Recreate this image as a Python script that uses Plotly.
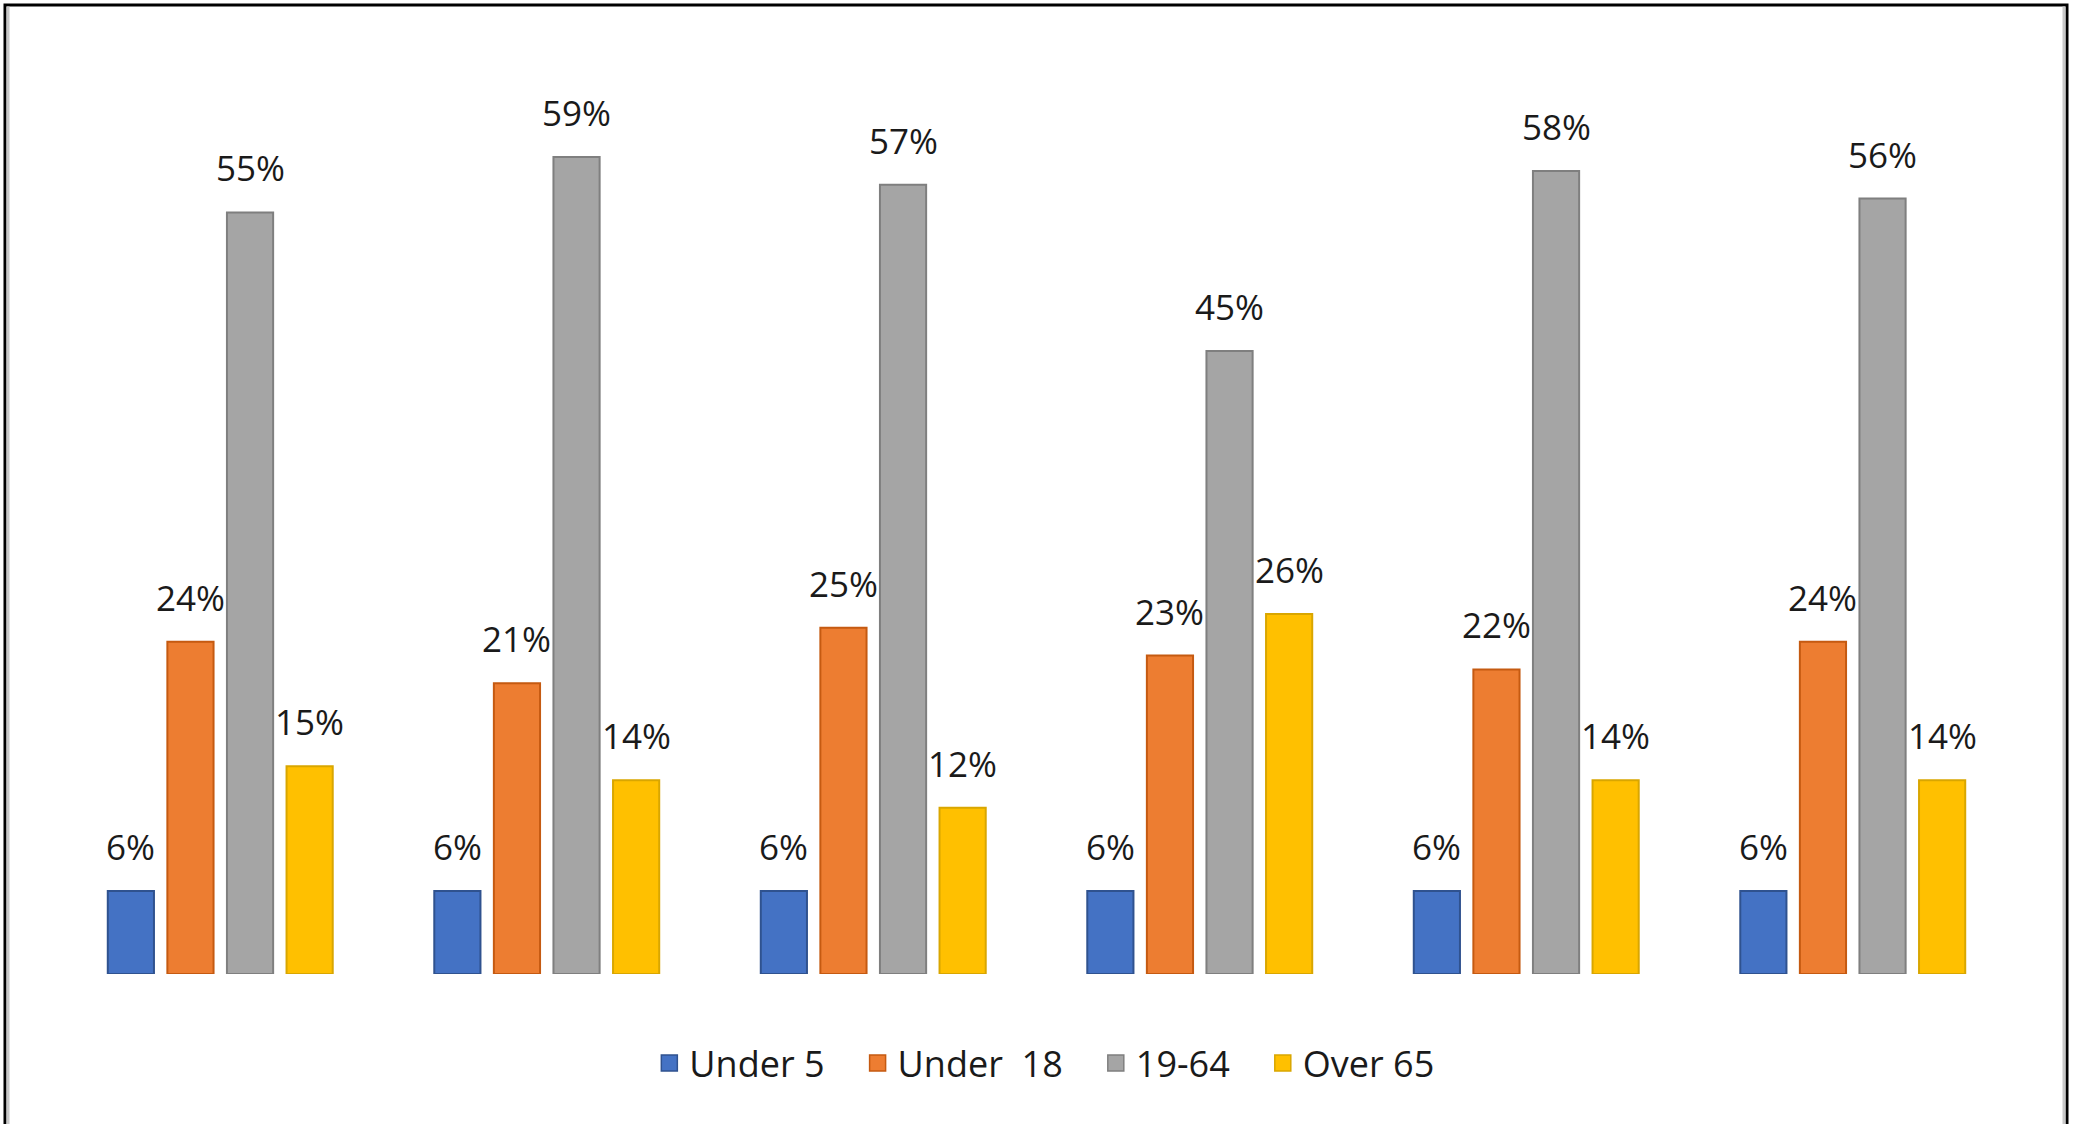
import plotly.graph_objects as go

# ---- data ----
categories = ["Group 1", "Group 2", "Group 3", "Group 4", "Group 5", "Group 6"]
series_names = ["Under 5", "Under\u00a0\u00a018", "19-64", "Over 65"]
under5 = [6, 6, 6, 6, 6, 6]
under18 = [24, 21, 25, 23, 22, 24]
age19_64 = [55, 59, 57, 45, 58, 56]
over65 = [15, 14, 12, 26, 14, 14]

# ---- styles ----
fill_colors = ["#4472C4", "#ED7D31", "#A5A5A5", "#FFC000"]
edge_colors = ["#2F528F", "#C55A11", "#7F7F7F", "#D9A600"]
W, H = 2073, 1124
ML, MR, MT, MB = 57, 57, 74, 150
BARGAP, BARGROUPGAP = 0.27, 0.225
FONT = "Open Sans, Liberation Sans, DejaVu Sans, sans-serif"
TXT = "#1a1a1a"
LEGEND_PAD = "\u00a0\u00a0\u00a0"

fig = go.Figure()
all_series = [under5, under18, age19_64, over65]
for k, (name, vals, fc, ec) in enumerate(zip(series_names, all_series, fill_colors, edge_colors)):
    fig.add_trace(go.Bar(
        x=categories, y=vals, name=name, showlegend=False,
        marker=dict(color=fc, line=dict(color=ec, width=2)),
        hoverinfo="skip",
    ))
# legend entries with larger square swatches
for k, (name, fc, ec) in enumerate(zip(series_names, fill_colors, edge_colors)):
    label = name + (LEGEND_PAD if k < len(series_names) - 1 else "")
    fig.add_trace(go.Scatter(
        x=[None], y=[None], name=label, mode="markers", showlegend=True,
        marker=dict(symbol="square", size=22, color=fc, line=dict(color=ec, width=1.5)),
        hoverinfo="skip",
    ))

# data labels above each bar
n = len(all_series)
slot = (1 - BARGAP) / n
annotations = []
for j, vals in enumerate(all_series):
    for i, v in enumerate(vals):
        annotations.append(dict(
            x=i + (j - (n - 1) / 2) * slot, y=v, xref="x", yref="y",
            text=f"{v}%", showarrow=False, yanchor="bottom", xanchor="center",
            yshift=19, font=dict(family=FONT, size=35, color=TXT),
        ))

pw = W - ML - MR
ph = H - MT - MB
shapes = [
    dict(type="rect", xref="paper", yref="paper",
         x0=(5 - ML) / pw, x1=(2067 - ML) / pw,
         y0=-(MB + 20) / ph, y1=1 + (MT - 5) / ph,
         line=dict(color="black", width=3), layer="above"),
    dict(type="line", xref="paper", yref="paper",
         x0=(8 - ML) / pw, x1=(8 - ML) / pw, y0=-(MB + 20) / ph, y1=1 + (MT - 6.5) / ph,
         line=dict(color="#c8c8c8", width=3)),
    dict(type="line", xref="paper", yref="paper",
         x0=(2064 - ML) / pw, x1=(2064 - ML) / pw, y0=-(MB + 20) / ph, y1=1 + (MT - 6.5) / ph,
         line=dict(color="#c8c8c8", width=3)),
]

fig.update_layout(
    width=W, height=H,
    margin=dict(l=ML, r=MR, t=MT, b=MB, pad=0),
    paper_bgcolor="white", plot_bgcolor="white",
    barmode="group", bargap=BARGAP, bargroupgap=BARGROUPGAP,
    font=dict(family=FONT, size=36, color=TXT),
    showlegend=True,
    legend=dict(orientation="h", x=0.504, xanchor="center",
                y=-(1063 - (H - MB)) / ph, yanchor="middle",
                font=dict(family=FONT, size=36, color=TXT),
                traceorder="normal", itemclick=False, itemsizing="trace"),
    annotations=annotations,
    shapes=shapes,
    xaxis=dict(showgrid=False, zeroline=False, showticklabels=False,
               showline=False, ticks=""),
    yaxis=dict(range=[0, 65], showgrid=False, zeroline=False,
               showticklabels=False, showline=False, ticks=""),
)

fig.write_html("out.html", config={"displayModeBar": False},
               post_script="document.body.style.margin='0';")
